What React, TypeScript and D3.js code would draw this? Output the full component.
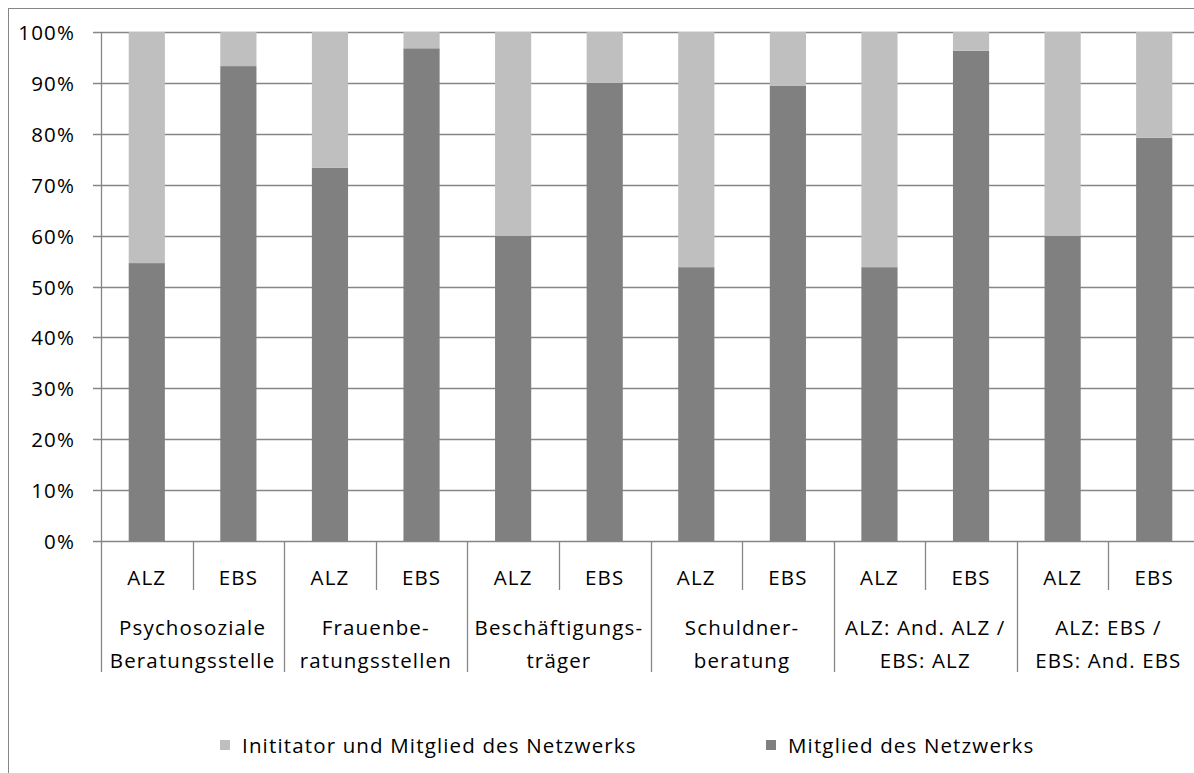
import React from 'react';
import * as d3 from 'd3';

// categories (two-line labels) and the sub-categories of each group
const groups = [
  ['Psychosoziale', 'Beratungsstelle'],
  ['Frauenbe-', 'ratungsstellen'],
  ['Beschäftigungs-', 'träger'],
  ['Schuldner-', 'beratung'],
  ['ALZ: And. ALZ /', 'EBS: ALZ'],
  ['ALZ: EBS /', 'EBS: And. EBS'],
];
const subgroups = ['ALZ', 'EBS'];

// series values in percent, one per bar (group x subgroup)
const mitglied = [54.6, 93.3, 73.3, 96.8, 60, 90, 53.8, 89.4, 53.8, 96.3, 60, 79.2];
const initiator = [45.4, 6.7, 26.7, 3.2, 40, 10, 46.2, 10.6, 46.2, 3.7, 40, 20.8];

const seriesNames = ['Mitglied des Netzwerks', 'Inititator und Mitglied des Netzwerks'];
const yTicks = [0, 0.1, 0.2, 0.3, 0.4, 0.5, 0.6, 0.7, 0.8, 0.9, 1];

const LIGHT = '#bfbfbf';
const DARK = '#808080';
const LINE = '#868686';
const FONT = '"Open Sans", sans-serif';

export default function App() {
  const rows = mitglied.map((m, i) => ({
    key: i,
    mitglied: m,
    initiator: initiator[i],
  }));

  const stack = d3
    .stack<any>()
    .keys(['mitglied', 'initiator'])
    .offset(d3.stackOffsetExpand);
  const stacked = stack(rows);

  const x = d3
    .scaleBand<number>()
    .domain(d3.range(rows.length))
    .range([101, 1200])
    .paddingInner(0.605)
    .paddingOuter(0.3025);
  const y = d3.scaleLinear().domain([0, 1]).range([541, 32]);

  const step = x.step();
  const axisX = 101;
  const bottom = y(0);

  const colors = [DARK, LIGHT];

  const textStyle = {
    fontFamily: FONT,
    fontSize: 20.5,
    letterSpacing: 1.15,
    fill: '#000',
  } as React.CSSProperties;

  return (
    <div style={{ position: 'fixed', left: 0, top: 0, width: 1194, height: 773, overflow: 'hidden', background: '#fff' }}>
      <svg width={1194} height={773}>
        {/* chart frame */}
        <rect x={8.5} y={8.5} width={1300} height={900} fill="#fff" stroke={LINE} strokeWidth={1} />

        {/* gridlines */}
        {yTicks.map((t) => (
          <line key={t} x1={axisX - 8} x2={1200} y1={Math.round(y(t)) + 0.5} y2={Math.round(y(t)) + 0.5} stroke={LINE} strokeWidth={1.3} />
        ))}

        {/* bars */}
        {stacked.map((s, si) =>
          s.map((d, i) => (
            <rect
              key={si + '-' + i}
              x={x(i)}
              y={y(d[1])}
              width={x.bandwidth()}
              height={y(d[0]) - y(d[1])}
              fill={colors[si]}
            />
          ))
        )}

        {/* y axis */}
        <line x1={axisX + 0.5} x2={axisX + 0.5} y1={y(1)} y2={672} stroke={LINE} strokeWidth={1.3} />
        {yTicks.map((t) => (
          <text key={'l' + t} x={75} y={y(t)} textAnchor="end" dominantBaseline="central" style={textStyle}>
            {d3.format('.0%')(t)}
          </text>
        ))}

        {/* x axis: sub labels and separators */}
        {rows.map((r, i) => {
          const left = (x(i) as number) - (step - x.bandwidth()) / 2;
          const isGroupStart = i % 2 === 0;
          return (
            <g key={'x' + i}>
              {i > 0 && (
                <line
                  x1={Math.round(left) + 0.5}
                  x2={Math.round(left) + 0.5}
                  y1={bottom}
                  y2={isGroupStart ? 672 : 590}
                  stroke={LINE}
                  strokeWidth={1.3}
                />
              )}
              <text x={(x(i) as number) + x.bandwidth() / 2} y={577} textAnchor="middle" dominantBaseline="central" style={textStyle}>
                {subgroups[i % 2]}
              </text>
            </g>
          );
        })}

        {/* group labels */}
        {groups.map((g, gi) => {
          const cx = axisX + step * (gi * 2 + 1);
          return (
            <text key={'g' + gi} x={cx} textAnchor="middle" style={textStyle}>
              <tspan x={cx} y={627} dominantBaseline="central">{g[0]}</tspan>
              <tspan x={cx} y={660} dominantBaseline="central">{g[1]}</tspan>
            </text>
          );
        })}

        {/* legend */}
        <rect x={220} y={740} width={10} height={10} fill={LIGHT} />
        <text x={242} y={745} dominantBaseline="central" style={textStyle}>{seriesNames[1]}</text>
        <rect x={766} y={740} width={10} height={10} fill={DARK} />
        <text x={788} y={745} dominantBaseline="central" style={textStyle}>{seriesNames[0]}</text>
      </svg>
    </div>
  );
}
